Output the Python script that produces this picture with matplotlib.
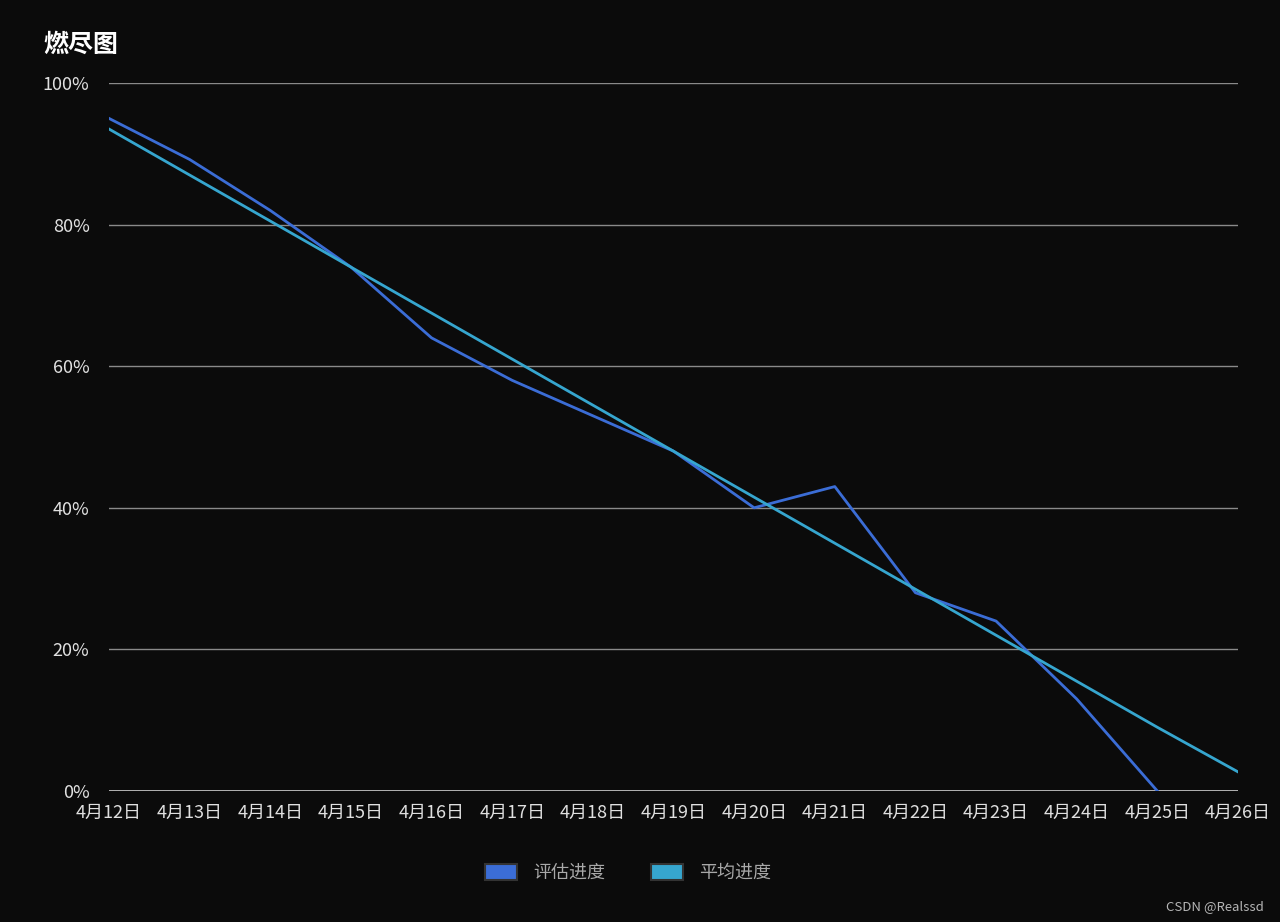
import matplotlib
matplotlib.use('Agg')
import matplotlib.pyplot as plt
from matplotlib.patches import Patch

plt.rcParams['font.family'] = ['Noto Sans CJK SC', 'DejaVu Sans']

# data
dates = ['4月12日', '4月13日', '4月14日', '4月15日', '4月16日', '4月17日', '4月18日',
         '4月19日', '4月20日', '4月21日', '4月22日', '4月23日', '4月24日', '4月25日', '4月26日']
est = [95, 89.2, 82, 74, 64, 58, 53, 48, 40, 43, 28, 24, 13, 0]
avg = [93.5, 87.0, 80.5, 74.0, 67.5, 61.0, 54.5, 48.0, 41.5, 35.0, 28.5, 22.0, 15.5, 9.0, 2.7]
yticks = [0, 20, 40, 60, 80, 100]

bg = '#0b0b0b'
c_est = '#3b6dd6'
c_avg = '#36a6cf'

fig = plt.figure(figsize=(12.8, 9.22), dpi=100, facecolor=bg)
ax = fig.add_axes([109/1280, 1-791/922, (1238-109)/1280, (791-83)/922])
ax.set_facecolor(bg)

ax.plot(range(len(est)), est, color=c_est, lw=2.0, zorder=3)
ax.plot(range(len(avg)), avg, color=c_avg, lw=2.0, zorder=4)

ax.set_xlim(0, len(dates)-1)
ax.set_ylim(0, 100)
ax.set_xticks(range(len(dates)))
ax.set_xticklabels(dates)
ax.set_yticks(yticks)
ax.set_yticklabels([f'{v}%' for v in yticks])
ax.tick_params(axis='both', length=0, labelsize=13, colors='#e0e0e0')
ax.tick_params(axis='y', pad=14)
ax.tick_params(axis='x', pad=9)
for v in yticks[1:]:
    ax.axhline(v, color='#8a8a8a', lw=1, zorder=1)
ax.axhline(0, color='#cfcfcf', lw=1.2, zorder=2)
for s in ax.spines.values():
    s.set_visible(False)

fig.text(43/1280, 1-45/922, '燃尽图', color='white', fontsize=18, fontweight='bold',
         va='center', ha='left')

handles = [Patch(facecolor=c_est, edgecolor='#333333', lw=1.5, label='评估进度'),
           Patch(facecolor=c_avg, edgecolor='#333333', lw=1.5, label='平均进度')]
leg = fig.legend(handles=handles, loc='center', bbox_to_anchor=(628/1280, 1-873/922),
                 ncol=2, frameon=False, fontsize=13, handlelength=1.8, handleheight=1.0,
                 handletextpad=0.9, columnspacing=2.5)
for t in leg.get_texts():
    t.set_color('#a8a8a8')

fig.text(1264/1280, 1-907/922, 'CSDN @Realssd', color='#b5b5b5', fontsize=9.5,
         ha='right', va='center')

fig.savefig('out.png', dpi=100, facecolor=bg)
